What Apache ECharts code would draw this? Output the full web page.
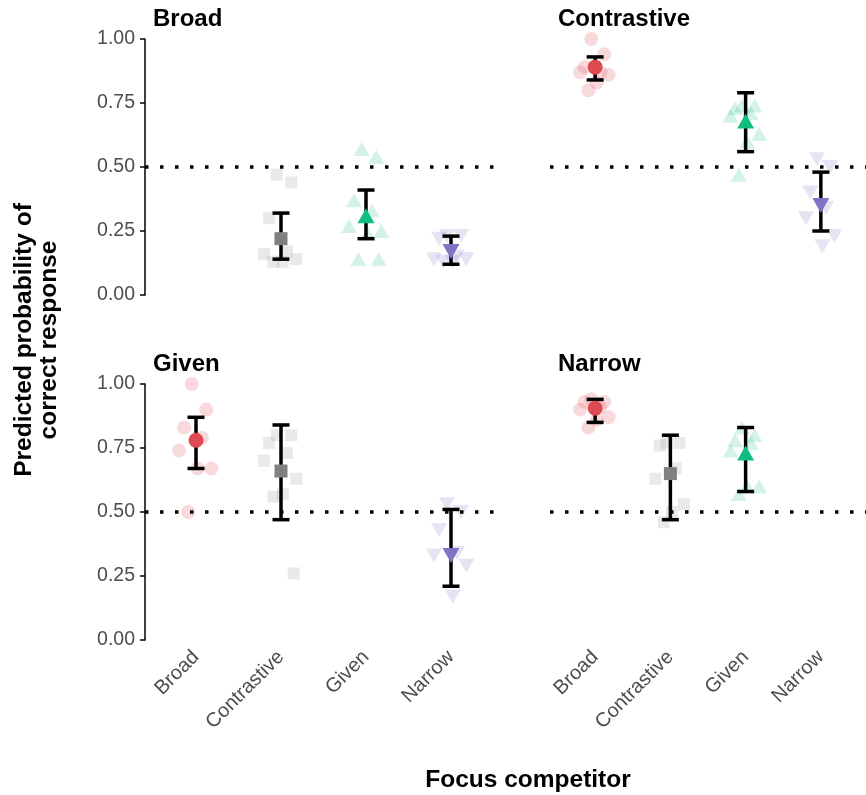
<!DOCTYPE html>
<html><head><meta charset="utf-8">
<script src="https://cdn.jsdelivr.net/npm/echarts@6/dist/echarts.min.js"></script>
<style>html,body{margin:0;padding:0;background:#fff}#c{width:866px;height:795px}</style>
</head><body><div id="c"></div>
<script>
// ---- data ----
const categories = ['Broad', 'Contrastive', 'Given', 'Narrow'];
const panels = ['Broad', 'Contrastive', 'Given', 'Narrow'];
const yTicks = [0, 0.25, 0.5, 0.75, 1];
const chance = 0.5;

// individual (by-item) predicted probabilities, per panel, per competitor category
const pts_Broad = {
  Contrastive: [0.47, 0.44, 0.30, 0.17, 0.16, 0.14, 0.13, 0.13],
  Given: [0.57, 0.54, 0.37, 0.33, 0.27, 0.25, 0.24, 0.14, 0.14],
  Narrow: [0.23, 0.23, 0.22, 0.15, 0.14, 0.14, 0.13, 0.13]
};
const pts_Contrastive = {
  Broad: [1.00, 0.94, 0.89, 0.87, 0.87, 0.86, 0.83, 0.80],
  Given: [0.74, 0.74, 0.73, 0.71, 0.70, 0.63, 0.60, 0.47],
  Narrow: [0.53, 0.50, 0.40, 0.34, 0.30, 0.23, 0.19]
};
const pts_Given = {
  Broad: [1.00, 0.90, 0.83, 0.79, 0.74, 0.67, 0.67, 0.50],
  Contrastive: [0.80, 0.80, 0.77, 0.73, 0.70, 0.63, 0.57, 0.56, 0.26],
  Narrow: [0.53, 0.50, 0.43, 0.34, 0.33, 0.29, 0.17]
};
const pts_Narrow = {
  Broad: [0.94, 0.93, 0.93, 0.91, 0.90, 0.87, 0.86, 0.83],
  Contrastive: [0.77, 0.77, 0.76, 0.67, 0.63, 0.53, 0.50, 0.46],
  Given: [0.83, 0.80, 0.78, 0.77, 0.74, 0.60, 0.60, 0.57]
};
// means with lower / upper CI
const mean_Broad = { Contrastive: [0.22, 0.14, 0.32], Given: [0.31, 0.22, 0.41], Narrow: [0.17, 0.12, 0.23] };
const mean_Contrastive = { Broad: [0.89, 0.84, 0.93], Given: [0.68, 0.56, 0.79], Narrow: [0.35, 0.25, 0.48] };
const mean_Given = { Broad: [0.78, 0.67, 0.87], Contrastive: [0.66, 0.47, 0.84], Narrow: [0.33, 0.21, 0.51] };
const mean_Narrow = { Broad: [0.905, 0.85, 0.94], Contrastive: [0.65, 0.47, 0.80], Given: [0.73, 0.58, 0.83] };

// horizontal jitter offsets (category units) applied by point index
const jitter = [-0.05, 0.12, -0.14, 0.07, -0.2, 0.18, 0.02, -0.09, 0.15];

// ---- styling ----
const colors = { Broad: '#DE4A50', Contrastive: '#808080', Given: '#10BF7F', Narrow: '#7F74C6' };
const lightColors = { Broad: 'rgba(228,100,112,0.3)', Contrastive: 'rgba(170,170,170,0.32)', Given: 'rgba(40,190,130,0.25)', Narrow: 'rgba(135,125,205,0.27)' };
const symbols = {
  Broad: 'circle',
  Contrastive: 'rect',
  Given: 'triangle',
  Narrow: 'path://M0,0 L10,0 L5,8.66 Z'
};
const sizes = { Broad: 15, Contrastive: 13, Given: [17, 15], Narrow: [17, 15] };
const jSizes = { Broad: 14, Contrastive: 12, Given: [16, 14], Narrow: [16, 14] };

const allPts = { Broad: pts_Broad, Contrastive: pts_Contrastive, Given: pts_Given, Narrow: pts_Narrow };
const allMeans = { Broad: mean_Broad, Contrastive: mean_Contrastive, Given: mean_Given, Narrow: mean_Narrow };

const gridPos = [
  { left: 145, top: 39 }, { left: 550, top: 39 },
  { left: 145, top: 384 }, { left: 550, top: 384 }
];
const PW = 357, PH = 256;
const font = 'Liberation Sans, Arial, sans-serif';

const grids = [], xAxes = [], yAxes = [], series = [], graphics = [];

panels.forEach((p, i) => {
  const g = gridPos[i];
  grids.push({ left: g.left, top: g.top, width: PW, height: PH });
  const bottom = i >= 2, leftCol = i % 2 === 0;
  xAxes.push({
    type: 'value', gridIndex: i, min: 0.4, max: 4.6,
    axisLine: { show: false }, splitLine: { show: false },
    axisTick: { show: false },
    axisLabel: {
      show: bottom, customValues: [1, 2, 3, 4], rotate: 45, margin: 14,
      formatter: v => categories[Math.round(v) - 1] || '',
      color: '#4D4D4D', fontSize: 20, fontFamily: font
    }
  });
  yAxes.push({
    type: 'value', gridIndex: i, min: 0, max: 1, interval: 0.25,
    splitLine: { show: false },
    axisLine: { show: leftCol, lineStyle: { color: '#000', width: 1.5 } },
    axisTick: { show: leftCol, length: 5, lineStyle: { color: '#000', width: 1.5 } },
    axisLabel: { show: leftCol, formatter: v => v.toFixed(2), color: '#4D4D4D', fontSize: 19.5, fontFamily: font, margin: 10 }
  });
  // chance line
  series.push({
    type: 'line', xAxisIndex: i, yAxisIndex: i, data: [], silent: true,
    markLine: {
      symbol: 'none', silent: true, label: { show: false },
      lineStyle: { color: '#000', type: [3.5, 11.5], width: 3.5, cap: 'butt' },
      data: [{ yAxis: chance }]
    }
  });
  const pts = allPts[p], means = allMeans[p];
  categories.forEach((c, ci) => {
    if (!pts[c]) return;
    series.push({
      type: 'scatter', xAxisIndex: i, yAxisIndex: i, z: 2,
      symbol: symbols[c], symbolSize: jSizes[c],
      itemStyle: { color: lightColors[c] },
      data: pts[c].map((v, k) => [ci + 1 + jitter[k % jitter.length], v])
    });
    const m = means[c];
    series.push({
      type: 'custom', xAxisIndex: i, yAxisIndex: i, z: 3,
      data: [[ci + 1, m[1], m[2]]],
      renderItem: (params, api) => {
        const x = api.value(0);
        const lo = api.coord([x, api.value(1)]);
        const hi = api.coord([x, api.value(2)]);
        const hw = 8.5;
        const st = { stroke: '#000', lineWidth: 3.5 };
        return {
          type: 'group', children: [
            { type: 'line', shape: { x1: lo[0], y1: lo[1], x2: hi[0], y2: hi[1] }, style: st },
            { type: 'line', shape: { x1: lo[0] - hw, y1: lo[1], x2: lo[0] + hw, y2: lo[1] }, style: st },
            { type: 'line', shape: { x1: hi[0] - hw, y1: hi[1], x2: hi[0] + hw, y2: hi[1] }, style: st }
          ]
        };
      }
    });
    series.push({
      type: 'scatter', xAxisIndex: i, yAxisIndex: i, z: 4,
      symbol: symbols[c], symbolSize: sizes[c],
      itemStyle: { color: colors[c], opacity: 1 },
      data: [[ci + 1, m[0]]]
    });
  });
  graphics.push({
    type: 'text', x: g.left + 8, y: g.top - 20,
    style: { text: p, textVerticalAlign: 'middle', font: 'bold 24px ' + font, fill: '#000' }
  });
});

graphics.push({
  type: 'text', x: 37, y: 340, rotation: Math.PI / 2,
  style: {
    text: 'Predicted probability of\ncorrect response', textAlign: 'center', textVerticalAlign: 'middle',
    font: 'bold 24.5px ' + font, fill: '#000', lineHeight: 25
  }
});
graphics.push({
  type: 'text', x: 528, y: 780,
  style: { text: 'Focus competitor', textAlign: 'center', textVerticalAlign: 'middle', font: 'bold 24.5px ' + font, fill: '#000' }
});

const chart = echarts.init(document.getElementById('c'), null, { renderer: 'canvas' });
chart.setOption({
  animation: false,
  backgroundColor: '#fff',
  grid: grids, xAxis: xAxes, yAxis: yAxes, series: series, graphic: graphics
});
</script>
</body></html>
